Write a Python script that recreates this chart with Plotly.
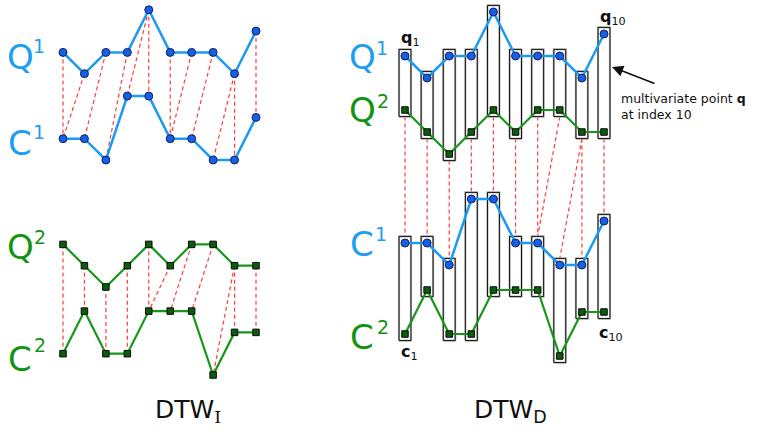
import plotly.graph_objects as go

W, H = 765, 432

# ---- data ----
IDX = list(range(1, 11))
Q1 = [2, 1, 2, 2, 4, 2, 2, 2, 1, 3]
Q2 = [2, 1, 0, 1, 2, 1, 2, 2, 1, 1]
C1 = [1, 1, 0, 3, 3, 1, 1, 0, 0, 2]
C2 = [1, 3, 1, 1, 3, 3, 3, 0, 2, 2]
# warping paths (query index, candidate index), 1-based
PATH_I1 = [(1, 1), (2, 1), (3, 2), (4, 3), (5, 4), (5, 5), (6, 6), (7, 6), (8, 7), (9, 8), (9, 9), (10, 10)]
PATH_I2 = [(1, 1), (2, 2), (3, 3), (4, 4), (5, 5), (6, 5), (7, 6), (8, 7), (9, 8), (9, 9), (10, 10)]
PATH_D = [(1, 1), (2, 2), (3, 3), (4, 4), (5, 5), (6, 6), (7, 7), (8, 7), (9, 8), (9, 9), (10, 10)]

# ---- style ----
BLUE_L = "#1a9af0"
BLUE_M = "#1560e8"
BLUE_T = "#1e9ef0"
GREEN_L = "#17961a"
GREEN_M = "#0b5d0b"
GREEN_T = "#129412"
RED = "#ff3b3b"
FONT = "DejaVu Sans"


def xrange_for(a, b):
    s = (b - a) / 9.0
    r0 = 1 - a / s
    return [r0, r0 + W / s]


UL, UR = 21.3, 22.0
XL = xrange_for(63, 256)
XR = xrange_for(405, 604)


def off(base_px, u):
    return (H - base_px) / u


# baselines (pixel rows of level 0)
OFF_L = {"Q1": off(95, UL), "C1": off(160, UL), "Q2": off(287, UL), "C2": off(375, UL)}
OFF_R = {"Q1": off(100, UR), "Q2": off(154, UR), "C1": off(265, UR), "C2": off(356, UR)}


def shift(vals, o):
    return [v + o for v in vals]


fig = go.Figure()


def series(vals, o, kind, xa, ya):
    if kind == "blue":
        line = dict(color=BLUE_L, width=2.5)
        marker = dict(symbol="circle", size=8, color=BLUE_M, line=dict(color="#14205a", width=1))
    else:
        line = dict(color=GREEN_L, width=2.2)
        marker = dict(symbol="square", size=6.5, color=GREEN_M, line=dict(color="#0a0a0a", width=1))
    fig.add_trace(go.Scatter(x=IDX, y=shift(vals, o), mode="lines+markers", line=line,
                             marker=marker, xaxis=xa, yaxis=ya, hoverinfo="skip"))


def warp(path, top, otop, bot, obot, xa, ya, dtop=0.0, dbot=0.0):
    xs, ys = [], []
    for i, j in path:
        xs += [i, j, None]
        ys += [top[i - 1] + otop - dtop, bot[j - 1] + obot + dbot, None]
    fig.add_trace(go.Scatter(x=xs, y=ys, mode="lines",
                             line=dict(color=RED, width=1.2, dash="4px,3px"),
                             xaxis=xa, yaxis=ya, hoverinfo="skip"))


# ---- left panel (DTW_I) ----
warp(PATH_I1, Q1, OFF_L["Q1"], C1, OFF_L["C1"], "x", "y")
warp(PATH_I2, Q2, OFF_L["Q2"], C2, OFF_L["C2"], "x", "y")
series(Q1, OFF_L["Q1"], "blue", "x", "y")
series(C1, OFF_L["C1"], "blue", "x", "y")
series(Q2, OFF_L["Q2"], "green", "x", "y")
series(C2, OFF_L["C2"], "green", "x", "y")

# ---- right panel (DTW_D) ----
PAD = 0.3
HW = 0.27


def boxes(top, otop, bot, obot):
    xs, ys = [], []
    for k, i in enumerate(IDX):
        yt = top[k] + otop + PAD
        yb = bot[k] + obot - PAD
        xs += [i - HW, i + HW, i + HW, i - HW, i - HW, None]
        ys += [yb, yb, yt, yt, yb, None]
    fig.add_trace(go.Scatter(x=xs, y=ys, mode="lines", line=dict(color="#bdbdbd", width=2.2),
                             xaxis="x2", yaxis="y2", hoverinfo="skip"))
    fig.add_trace(go.Scatter(x=xs, y=ys, mode="lines", line=dict(color="#111111", width=1),
                             xaxis="x2", yaxis="y2", hoverinfo="skip"))


warp(PATH_D, Q2, OFF_R["Q2"], C1, OFF_R["C1"], "x2", "y2", dtop=PAD, dbot=PAD)
boxes(Q1, OFF_R["Q1"], Q2, OFF_R["Q2"])
boxes(C1, OFF_R["C1"], C2, OFF_R["C2"])
series(Q1, OFF_R["Q1"], "blue", "x2", "y2")
series(Q2, OFF_R["Q2"], "green", "x2", "y2")
series(C1, OFF_R["C1"], "blue", "x2", "y2")
series(C2, OFF_R["C2"], "green", "x2", "y2")

# ---- text ----
ann = []


def txt(x, y, t, size, color, xanchor="center", yanchor="middle", align="center"):
    ann.append(dict(x=x / W, y=1 - y / H, xref="paper", yref="paper", text=t, showarrow=False,
                    xanchor=xanchor, yanchor=yanchor, align=align,
                    font=dict(family=FONT, size=size, color=color)))


def label(cx, cy, letter, sx, sy, sup, color):
    txt(cx, cy, letter, 34, color)
    txt(sx, sy, sup, 19, color)


label(20, 57, "Q", 39, 46, "1", BLUE_T)
label(20, 143, "C", 39, 132, "1", BLUE_T)
label(20, 247, "Q", 40, 237, "2", GREEN_T)
label(20, 359, "C", 40, 345, "2", GREEN_T)

label(362, 57, "Q", 382, 48, "1", BLUE_T)
label(362, 110, "Q", 383, 101, "2", GREEN_T)
label(362, 244, "C", 381, 234, "1", BLUE_T)
label(362, 337, "C", 383, 327, "2", GREEN_T)

txt(410, 38, "<b>q</b><sub>1</sub>", 16, "#111111")
txt(613, 18, "<b>q</b><sub>10</sub>", 16, "#111111")
txt(409, 352, "<b>c</b><sub>1</sub>", 16, "#111111")
txt(611, 333, "<b>c</b><sub>10</sub>", 16, "#111111")

txt(619, 89, "multivariate point <b>q</b><br>at index 10", 12.5, "#111111",
    xanchor="left", yanchor="top", align="left")
ann.append(dict(x=612 / W, y=1 - 67 / H, xref="paper", yref="paper", text="",
                showarrow=True, ax=44, ay=17, arrowhead=2, arrowsize=1.4,
                arrowwidth=1.6, arrowcolor="#111111"))

txt(188, 411, "DTW<sub><span style=\"font-family:'DejaVu Serif'\">I</span></sub>", 25, "#111111")
txt(511, 411, "DTW<sub>D</sub>", 25, "#111111")

fig.update_layout(
    width=W, height=H, margin=dict(l=0, r=0, t=0, b=0),
    paper_bgcolor="white", plot_bgcolor="white", showlegend=False,
    xaxis=dict(domain=[0, 1], range=XL, visible=False, fixedrange=True),
    yaxis=dict(domain=[0, 1], range=[0, H / UL], visible=False, fixedrange=True),
    xaxis2=dict(domain=[0, 1], range=XR, visible=False, overlaying="x", anchor="y2", fixedrange=True),
    yaxis2=dict(domain=[0, 1], range=[0, H / UR], visible=False, overlaying="y", anchor="x2", fixedrange=True),
    annotations=ann,
)

fig.write_html("out.html", config={"displayModeBar": False},
               post_script="document.body.style.margin='0';document.body.style.overflow='hidden';")
